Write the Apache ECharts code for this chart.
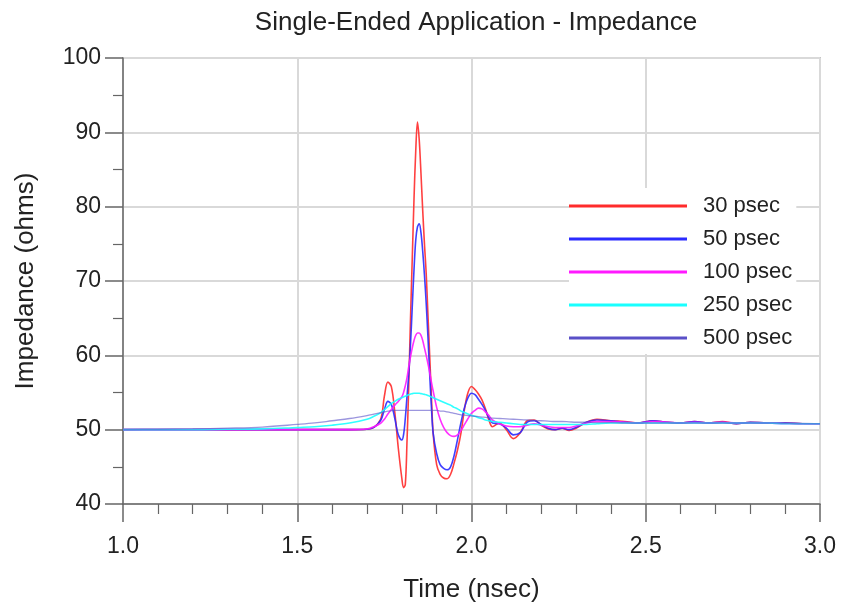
<!DOCTYPE html>
<html><head><meta charset="utf-8">
<script src="https://cdn.jsdelivr.net/npm/echarts@6/dist/echarts.min.js"></script>
<style>html,body{margin:0;padding:0;background:#fff}#c{width:842px;height:608px}</style>
</head><body><div id="c"></div>
<script>
const times = [1.00,1.10,1.20,1.30,1.40,1.50,1.55,1.60,1.65,1.70,1.72,1.74,1.75,1.76,1.77,1.78,1.79,
 1.80,1.805,1.81,1.815,1.82,1.825,1.83,1.835,1.84,1.845,1.85,1.855,1.86,1.865,1.87,1.875,1.88,1.885,1.89,
 1.90,1.91,1.92,1.93,1.94,1.95,1.96,1.97,1.98,1.99,2.00,2.01,2.02,2.03,2.04,2.05,2.06,
 2.08,2.10,2.12,2.14,2.16,2.18,2.20,2.22,2.24,2.26,2.28,2.30,
 2.33,2.36,2.40,2.44,2.48,2.52,2.56,2.60,2.64,2.68,2.72,2.76,2.80,
 2.85,2.90,2.95,3.00];

const ps30 = [50,50,50,50,50,50,50,50,50,50.05,50.3,51.5,54.5,56.4,55.8,52.3,47.5,
 43.5,42.2,42.6,48.5,56,65,73,81,87.5,91.4,89,84.5,79.5,75,71,65.5,60,54.5,49.5,
 45.3,44.0,43.5,43.4,44.0,45.5,47.3,49.6,52.8,55.0,55.8,55.4,54.8,54.0,52.8,51.3,50.4,
 50.9,50.0,48.8,49.6,51.2,51.3,50.6,50.1,50.0,50.2,49.9,50.2,
 51.0,51.4,51.2,51.1,50.9,51.2,51.0,50.9,51.1,50.9,51.1,50.8,51.0,
 50.9,50.9,50.8,50.8];

const ps50 = [50,50,50,50,50,50,50,50,50,50.05,50.3,51.3,52.7,53.8,53.4,51.5,49.3,
 48.6,49.3,51.5,54.5,57.5,61.5,66.5,71.5,75.5,77.3,77.7,76.5,74,70.8,67,62.5,57.5,53,49.5,
 46.8,45.3,44.8,44.6,45.0,46.5,48.7,51.0,53.0,54.3,54.9,54.7,54.1,53.4,52.6,51.6,50.9,
 50.8,50.2,49.3,49.6,51.0,51.2,50.7,50.2,50.0,50.2,50.0,50.3,
 51.0,51.3,51.2,51.0,50.9,51.2,51.0,50.9,51.1,50.9,51.0,50.8,51.0,
 50.9,50.9,50.8,50.8];

const ps100 = [50,50,50,50,50,50,50,50,50,50.1,50.4,50.9,51.4,52.1,52.7,53.3,53.8,
 54.4,55.0,55.9,57.0,58.5,59.8,61.0,62.0,62.7,63.0,63.0,62.7,62.0,61.0,60.0,58.9,57.7,56.4,55.2,
 53.0,51.4,50.3,49.6,49.2,49.1,49.3,49.9,50.7,51.5,52.2,52.6,52.9,52.8,52.4,51.9,51.3,
 50.8,50.5,50.4,50.4,50.6,50.8,50.6,50.4,50.3,50.3,50.3,50.5,
 50.9,51.1,51.1,51.0,50.9,51.1,51.0,50.9,51.0,50.9,51.0,50.9,50.9,
 50.9,50.8,50.8,50.8];

const ps250 = [50,50,50,50.05,50.1,50.3,50.4,50.6,50.9,51.4,51.8,52.3,52.7,53.1,53.5,53.8,54.1,
 54.3,54.4,54.5,54.6,54.7,54.8,54.85,54.9,54.9,54.9,54.9,54.85,54.8,54.75,54.7,54.6,54.5,54.4,54.3,
 54.1,53.9,53.7,53.5,53.3,53.0,52.8,52.5,52.3,52.1,51.9,51.8,51.6,51.5,51.3,51.2,51.1,
 51.0,50.9,50.8,50.7,50.7,50.7,50.7,50.7,50.7,50.7,50.7,50.7,
 50.7,50.8,50.9,50.9,50.9,50.9,50.9,50.9,50.9,50.9,50.9,50.9,50.9,
 50.9,50.8,50.8,50.8];

const ps500 = [50,50.05,50.1,50.2,50.35,50.7,50.9,51.2,51.5,51.9,52.1,52.3,52.4,52.5,52.55,52.6,52.6,
 52.6,52.6,52.6,52.6,52.6,52.6,52.6,52.6,52.6,52.6,52.6,52.6,52.6,52.6,52.6,52.6,52.6,52.6,52.6,
 52.6,52.5,52.5,52.4,52.3,52.2,52.1,52.0,51.95,51.9,51.85,51.8,51.75,51.7,51.65,51.6,51.55,
 51.5,51.45,51.4,51.35,51.3,51.25,51.2,51.15,51.1,51.1,51.05,51.0,
 51.0,50.95,50.95,50.9,50.9,50.9,50.9,50.9,50.9,50.9,50.9,50.9,50.9,
 50.9,50.85,50.85,50.8];

const seriesNames = ['30 psec','50 psec','100 psec','250 psec','500 psec'];
const seriesValues = [ps30, ps50, ps100, ps250, ps500];
const seriesColors = ['#ff2b2b','#2b2bff','#ff1aff','#1affff','#5a50c8'];

const FONT = 'Liberation Sans, Arial, sans-serif';
const chart = echarts.init(document.getElementById('c'), null, {renderer:'canvas'});

const series = seriesNames.map((n, i) => ({
  name: n,
  type: 'line',
  data: times.map((t, k) => [t, seriesValues[i][k]]),
  smooth: 0.35,
  showSymbol: false,
  color: seriesColors[i],
  lineStyle: {width: i === 4 ? 1.3 : 1.6, opacity: i === 4 ? 0.6 : 0.9},
  z: 3 + i
}));

chart.setOption({
  animation: false,
  backgroundColor: '#fff',
  title: {
    text: 'Single-Ended Application - Impedance',
    left: 471, top: 5, textAlign: 'center',
    textStyle: {fontFamily: FONT, fontSize: 26, fontWeight: 'normal', color: '#222'}
  },
  legend: {
    orient: 'vertical',
    left: 569, top: 188,
    icon: 'rect',
    itemWidth: 118, itemHeight: 3,
    itemGap: 9,
    padding: [6, 4, 4, 0],
    backgroundColor: '#fff',
    textStyle: {fontFamily: FONT, fontSize: 22, color: '#222', padding: [0,0,0,11], lineHeight: 24},
    data: seriesNames,
    z: 10
  },
  grid: {left: 123, right: 22, top: 58, bottom: 104, show: true, borderColor: '#999', borderWidth: 1.5},
  xAxis: {
    type: 'value', min: 1.0, max: 3.0, interval: 0.5,
    name: 'Time (nsec)', nameLocation: 'middle', nameGap: 73,
    nameTextStyle: {fontFamily: FONT, fontSize: 26, color: '#222'},
    axisLine: {lineStyle: {color: '#666', width: 1.5}},
    axisTick: {show: true, length: 18, lineStyle: {color: '#666', width: 1.5}},
    minorTick: {show: true, splitNumber: 5, length: 10, lineStyle: {color: '#666', width: 1.2}},
    splitLine: {show: true, lineStyle: {color: '#d9d9d9', width: 2}},
    axisLabel: {fontFamily: FONT, fontSize: 23, color: '#222', margin: 31,
      formatter: v => v.toFixed(1)}
  },
  yAxis: {
    type: 'value', min: 40, max: 100, interval: 10,
    name: 'Impedance (ohms)', nameLocation: 'middle', nameGap: 84,
    nameTextStyle: {fontFamily: FONT, fontSize: 26, color: '#222'},
    axisLine: {show: true, lineStyle: {color: '#666', width: 1.5}},
    axisTick: {show: true, length: 18, lineStyle: {color: '#666', width: 1.5}},
    minorTick: {show: true, splitNumber: 2, length: 10, lineStyle: {color: '#666', width: 1.2}},
    splitLine: {show: true, lineStyle: {color: '#d9d9d9', width: 2}},
    axisLabel: {fontFamily: FONT, fontSize: 23, color: '#222', margin: 22}
  },
  series: series
});
</script></body></html>
